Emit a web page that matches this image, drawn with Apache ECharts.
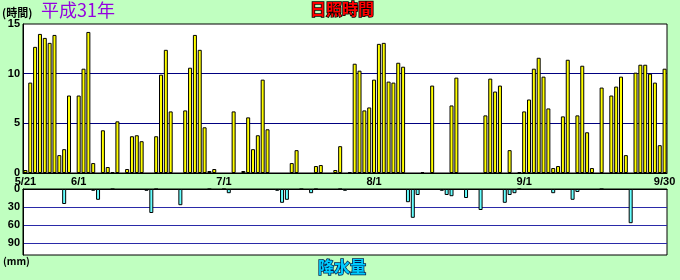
<!DOCTYPE html>
<html>
<head>
<meta charset="utf-8">
<script src="https://cdn.jsdelivr.net/npm/echarts@6/dist/echarts.min.js"></script>
<style>
html, body { margin: 0; padding: 0; background: #c0ffc0; }
#chart { width: 680px; height: 280px; }
</style>
</head>
<body>
<div id="chart"></div>
<script>
// 日照時間 (時間) 5/21〜9/30
const sunMay = [0.3, 9.1, 12.7, 14.0, 13.6, 13.1, 13.9, 1.8, 2.4, 7.8, 0]
const sunJun = [7.8, 10.5, 14.2, 1.0, 0, 4.3, 0.6, 0.1, 5.2, 0,
  0.4, 3.7, 3.8, 3.2, 0, 0, 3.7, 9.9, 12.4, 6.2,
  0, 0, 6.3, 10.6, 13.9, 12.4, 4.6, 0.2, 0.4, 0]
const sunJul = [0, 0, 6.2, 0, 0.2, 5.6, 2.4, 3.8, 9.4, 4.4,
  0, 0, 0, 0, 1.0, 2.3, 0, 0, 0, 0.7,
  0.8, 0, 0, 0.3, 2.7, 0, 0.1, 11.0, 10.3, 6.3, 6.6]
const sunAug = [9.4, 13.0, 13.1, 9.2, 9.1, 11.1, 10.7, 0, 0, 0,
  0.1, 0, 8.8, 0, 0, 0, 6.8, 9.6, 0, 0,
  0, 0, 0, 5.8, 9.5, 8.2, 8.8, 0, 2.3, 0, 0.1]
const sunSep = [6.2, 7.4, 10.5, 11.6, 9.7, 6.5, 0.5, 0.7, 5.7, 11.4,
  0, 5.8, 10.8, 4.1, 0.5, 0, 8.6, 0, 7.8, 8.7,
  9.7, 1.8, 0, 10.1, 10.9, 10.9, 10.0, 9.1, 2.8, 10.5]

// 降水量 (mm)
const rainMay = [0, 0, 0, 0, 0, 0, 0, 0, 25, 0, 0]
const rainJun = [0, 0, 0, 3, 18, 0, 0, 0.5, 0, 0,
  0, 0, 0, 0, 3, 40, 0.5, 0, 0, 0,
  0, 27, 0, 0, 0, 0, 0, 0.5, 0, 0]
const rainJul = [0.5, 7, 0, 0, 0, 0, 0, 0, 0, 0,
  0, 3, 23, 18, 0, 0, 0.5, 0, 7, 0.5,
  0, 0, 0, 0, 0.5, 3, 0, 0, 0, 0, 0]
const rainAug = [0, 0, 0, 0, 0, 0, 0, 22, 48, 10,
  0, 0, 0, 0, 3, 10, 12, 0, 0, 15,
  0, 0, 35, 0, 0, 0, 0, 23, 10, 7, 0.5]
const rainSep = [0, 0, 0, 0, 0, 0, 7, 0, 0, 0,
  18, 5, 0, 0, 0, 0, 0.5, 0, 0, 0,
  0, 0, 57, 0, 0, 0, 0, 0, 0, 0]

const sunshine = [].concat(sunMay, sunJun, sunJul, sunAug, sunSep)
const rain = [].concat(rainMay, rainJun, rainJul, rainAug, rainSep)

// 日付 (カテゴリ)
const days = []
for (let i = 0; i < sunshine.length; i++) {
  const d = new Date(2019, 4, 21 + i)
  days.push(d.getMonth() + 1 + "/" + d.getDate())
}

const labelFont = { fontFamily: "Liberation Sans", fontWeight: "bold", fontSize: 11, color: "#000" }
const jpFont = '"Noto Sans CJK JP"'

const chart = echarts.init(document.getElementById("chart"))
chart.setOption({
  backgroundColor: "#c0ffc0",
  animation: false,
  grid: [
    { left: 23, right: 13, top: 24, height: 149, show: true, backgroundColor: "#fff", borderColor: "#000", borderWidth: 1 },
    { left: 23, right: 13, top: 189, height: 66, show: true, backgroundColor: "#fff", borderColor: "#000", borderWidth: 1 },
  ],
  xAxis: [
    {
      gridIndex: 0,
      type: "category",
      data: days,
      axisLine: { lineStyle: { color: "#000" } },
      axisTick: { show: false },
      axisLabel: Object.assign({}, labelFont, {
        margin: 3,
        interval: (i, v) => i === 0 || i === days.length - 1 || v.endsWith("/1"),
      }),
    },
    {
      gridIndex: 1,
      type: "category",
      data: days,
      position: "top",
      axisLine: { lineStyle: { color: "#000" } },
      axisTick: { show: false },
      axisLabel: { show: false },
    },
  ],
  yAxis: [
    {
      gridIndex: 0,
      type: "value",
      min: 0,
      max: 15,
      interval: 5,
      axisLine: { show: true, lineStyle: { color: "#000" } },
      axisTick: { show: false },
      axisLabel: Object.assign({}, labelFont, { margin: 3 }),
      splitLine: { showMinLine: false, showMaxLine: false, lineStyle: { color: "#000080" } },
    },
    {
      gridIndex: 1,
      type: "value",
      inverse: true,
      min: 0,
      max: 110,
      interval: 30,
      axisLine: { show: true, lineStyle: { color: "#000" } },
      axisTick: { show: false },
      axisLabel: Object.assign({}, labelFont, { margin: 3, showMaxLabel: false }),
      splitLine: { showMinLine: false, showMaxLine: false, lineStyle: { color: "#2a2aa8" } },
    },
  ],
  series: [
    {
      name: "日照時間",
      type: "bar",
      xAxisIndex: 0,
      yAxisIndex: 0,
      barWidth: 4,
      itemStyle: { color: "#ffff00", borderColor: "#000", borderWidth: 1 },
      data: sunshine.map(v => (v === 0 ? "-" : v)),
    },
    {
      name: "降水量",
      type: "bar",
      xAxisIndex: 1,
      yAxisIndex: 1,
      barWidth: 4,
      itemStyle: { color: "#66ffff", borderColor: "#000", borderWidth: 1 },
      data: rain.map(v => (v === 0 ? "-" : v)),
    },
  ],
  graphic: [
    { type: "text", x: 2, y: 7, style: { text: "(時間)", font: "bold 11px " + jpFont, fill: "#000" } },
    { type: "text", x: 41, y: 1, style: { text: "平成31年", font: "18px " + jpFont, fill: "#9400e0" } },
    { type: "text", x: 342, y: 1, style: { text: "日照時間", font: "bold 16px " + jpFont, fill: "#ff0000", stroke: "#000", lineWidth: 1.5, align: "center" } },
    { type: "text", x: 3, y: 256, style: { text: "(mm)", font: "bold 10px " + jpFont, fill: "#000" } },
    { type: "text", x: 342, y: 259, style: { text: "降水量", font: "bold 16px " + jpFont, fill: "#00ccff", stroke: "#002050", lineWidth: 1.5, align: "center" } },
  ],
})
</script>
</body>
</html>
